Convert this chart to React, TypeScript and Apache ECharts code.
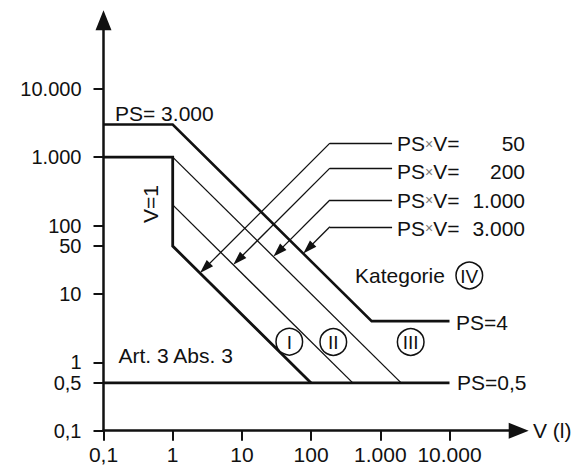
import React, { useEffect, useRef } from "react";
import * as echarts from "echarts";

// ---- data (V in litres, PS in bar) ----
const xTickValues = [0.1, 1, 10, 100, 1000, 10000];
const xTickLabels = ["0,1", "1", "10", "100", "1.000", "10.000"];
const yTickValues = [0.1, 0.5, 1, 10, 50, 100, 1000, 10000];
const yTickLabels = ["0,1", "0,5", "1", "10", "50", "100", "1.000", "10.000"];

// boundary lines as [V, PS]
const art3Boundary = [[0.1, 1000], [1, 1000], [1, 50], [100, 0.5]];
const ps05Line = [[0.1, 0.5], [10000, 0.5]];
const catIVBoundary = [[0.1, 3000], [1, 3000], [750, 4], [10000, 4]];
const psv200Line = [[1, 200], [400, 0.5]];
const psv1000Line = [[1, 1000], [2000, 0.5]];

// leader annotations for PS x V lines
const psvProducts = [50, 200, 1000, 3000];
const psvValueLabels = ["50", "200", "1.000", "3.000"];
const leaderTipV = [2.48, 7.5, 28.5, 77];
const leaderKneeV = 187;
const leaderEndV = 1480;

// ---- layout ----
const W = 585;
const H = 468;
const GRID_LEFT = 103.5;
const GRID_TOP = 20.3;
const GRID_W = 415.2;
const GRID_H = 410.4;
const X_MIN = -1;
const X_MAX = 5;
const Y_MIN = -1;
const Y_MAX = 5;
const PX_X = GRID_W / (X_MAX - X_MIN);
const PX_Y = GRID_H / (Y_MAX - Y_MIN);

const INK = "#111";
const FONT = '"Liberation Sans", Arial, Helvetica, sans-serif';

const L = (v: number) => Math.log10(v);
const toXY = (pts: number[][]) => pts.map(([v, p]) => [L(v), L(p)]);

const nearestLabel = (vals: number[], labels: string[], val: number) => {
  let best = 0;
  let bd = Infinity;
  vals.forEach((v, i) => {
    const d = Math.abs(L(v) - val);
    if (d < bd) {
      bd = d;
      best = i;
    }
  });
  return labels[best];
};

function buildOption() {
  const lineSeries = (data: number[][], width: number, z = 3) => ({
    type: "line",
    data: toXY(data),
    symbol: "none",
    showSymbol: false,
    silent: true,
    z,
    lineStyle: { color: INK, width, cap: "butt", join: "miter" },
  });

  const arrowH = 14;
  const half = arrowH / 2 / Math.SQRT2;
  const kneeX = L(leaderKneeV);
  const endX = L(leaderEndV);
  const leaderData: any[] = [];
  psvProducts.forEach((prod, i) => {
    const tx = L(leaderTipV[i]);
    const ty = L(prod / leaderTipV[i]);
    const ky = ty + ((kneeX - tx) * PX_X) / PX_Y;
    leaderData.push([
      { coord: [endX, ky], symbol: "none" },
      { coord: [kneeX, ky], symbol: "none" },
    ]);
    leaderData.push([
      { coord: [kneeX, ky], symbol: "none" },
      {
        coord: [tx + half / PX_X, ty + half / PX_Y],
        symbol: "triangle",
        symbolSize: [9, arrowH],
      },
    ]);
  });

  const txt = (
    text: string,
    x: number,
    y: number,
    extra: any = {},
    el: any = {}
  ) => ({
    type: "text",
    x,
    y,
    silent: true,
    z: 100,
    ...el,
    style: {
      text,
      font: `21px ${FONT}`,
      fill: INK,
      textAlign: "left",
      textVerticalAlign: "middle",
      align: "left",
      verticalAlign: "middle",
      ...extra,
    },
  });

  const circleMark = (label: string, cx: number, cy: number) => [
    {
      type: "circle",
      silent: true,
      z: 100,
      shape: { cx, cy, r: 13.3 },
      style: { fill: "#fff", stroke: INK, lineWidth: 1.5 },
    },
    txt(label, cx, cy + 0.5, {
      font: `19px ${FONT}`,
      textAlign: "center",
      align: "center",
    }),
  ];

  const psvTextYs = [143.5, 171.5, 200, 228.3];
  const graphics: any[] = [
    txt("PS= 3.000", 115, 113),
    txt("V=1", 150, 204, { textAlign: "center", align: "center" }, { rotation: Math.PI / 2 }),
    txt("Art. 3 Abs. 3", 118.5, 355),
    txt("Kategorie", 355, 275.5),
    txt("PS=4", 456, 322),
    txt("PS=0,5", 457, 382),
    txt("V (l)", 533, 430),
    ...circleMark("IV", 469.3, 275.5),
    ...circleMark("I", 289.3, 341.7),
    ...circleMark("II", 333.3, 342),
    ...circleMark("III", 410.7, 342),
  ];
  psvValueLabels.forEach((lab, i) => {
    graphics.push(
      txt("{a|PS}{m|×}{a|V=}", 397, psvTextYs[i], {
        rich: {
          a: { font: `21px ${FONT}`, fill: INK },
          m: { font: `14px ${FONT}`, fill: "#777" },
        },
      })
    );
    graphics.push(
      txt(lab, 525, psvTextYs[i], { textAlign: "right", align: "right" })
    );
  });

  return {
    animation: false,
    backgroundColor: "#fff",
    grid: {
      left: GRID_LEFT,
      top: GRID_TOP,
      width: GRID_W,
      height: GRID_H,
      containLabel: false,
      outerBoundsMode: "none",
    },
    xAxis: {
      type: "value",
      min: X_MIN,
      max: X_MAX,
      splitLine: { show: false },
      axisLine: {
        show: true,
        onZero: false,
        symbol: ["none", "triangle"],
        symbolSize: [16, 20],
        lineStyle: { color: INK, width: 2.5 },
      },
      axisTick: {
        show: true,
        length: 10,
        customValues: xTickValues.map(L),
        lineStyle: { color: INK, width: 2 },
      },
      axisLabel: {
        show: true,
        margin: 13,
        customValues: xTickValues.map(L),
        formatter: (val: number) => nearestLabel(xTickValues, xTickLabels, val),
        color: INK,
        fontSize: 21,
        fontFamily: FONT,
      },
    },
    yAxis: {
      type: "value",
      min: Y_MIN,
      max: Y_MAX,
      splitLine: { show: false },
      axisLine: {
        show: true,
        onZero: false,
        symbol: ["none", "triangle"],
        symbolSize: [16, 20],
        lineStyle: { color: INK, width: 2.5 },
      },
      axisTick: {
        show: true,
        length: 10,
        customValues: yTickValues.map(L),
        lineStyle: { color: INK, width: 2 },
      },
      axisLabel: {
        show: true,
        margin: 22,
        customValues: yTickValues.map(L),
        formatter: (val: number) => nearestLabel(yTickValues, yTickLabels, val),
        color: INK,
        fontSize: 20,
        lineHeight: 20,
        fontFamily: FONT,
      },
    },
    series: [
      lineSeries(art3Boundary, 2.8),
      lineSeries(ps05Line, 2.8),
      lineSeries(catIVBoundary, 2.6),
      lineSeries(psv200Line, 1.3),
      lineSeries(psv1000Line, 1.3),
      {
        type: "line",
        data: [],
        silent: true,
        z: 4,
        markLine: {
          silent: true,
          animation: false,
          symbol: ["none", "none"],
          label: { show: false },
          emphasis: { disabled: true },
          lineStyle: { type: "solid", color: INK, width: 1.3 },
          itemStyle: { color: INK },
          data: leaderData,
        },
      },
    ],
    graphic: graphics,
  };
}

export default function App() {
  const ref = useRef<HTMLDivElement>(null);
  useEffect(() => {
    if (!ref.current) return;
    const chart = echarts.init(ref.current, undefined, { renderer: "svg" });
    chart.setOption(buildOption() as any);
    return () => chart.dispose();
  }, []);
  return (
    <div
      ref={ref}
      style={{
        position: "fixed",
        left: 0,
        top: 0,
        width: W,
        height: H,
        background: "#fff",
      }}
    />
  );
}
